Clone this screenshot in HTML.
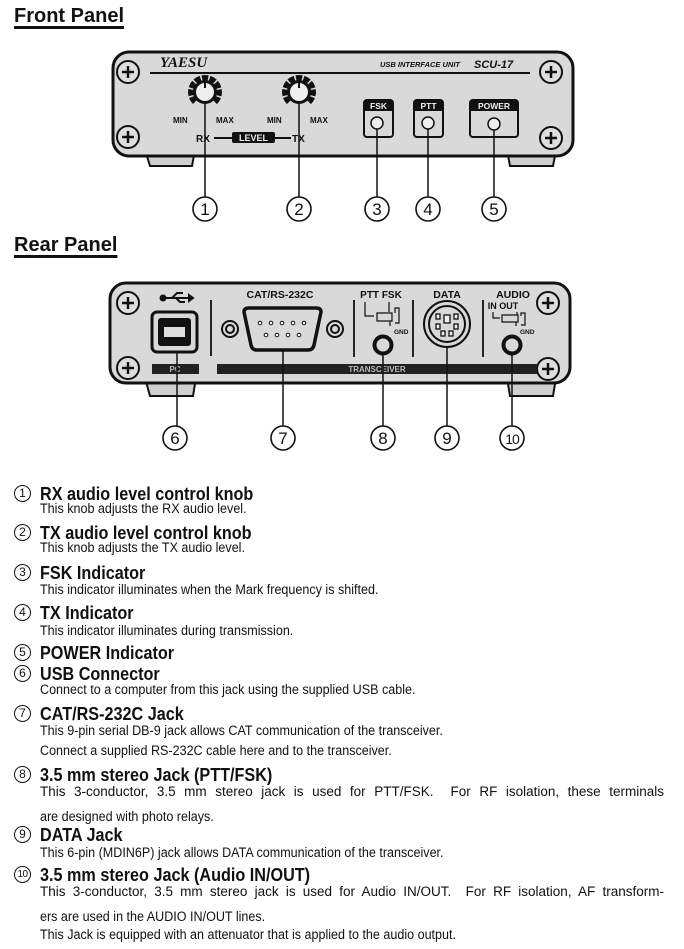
<!DOCTYPE html>
<html><head><meta charset="utf-8"><style>
body{margin:0;width:684px;height:949px;background:#fff;position:relative;overflow:hidden;font-family:"Liberation Sans",Arial,sans-serif;color:#111}
svg{position:absolute;left:0;top:0}
.h{position:absolute;left:40px;font-weight:bold;font-size:18px;line-height:20px;white-space:nowrap;transform:scaleX(0.9);transform-origin:0 0}
.n{position:absolute;left:14px;width:15px;height:15px;border:1.4px solid #111;border-radius:50%;font-size:12px;line-height:15px;text-align:center}
.s{position:absolute;left:40px;font-size:13.5px;line-height:16px;white-space:nowrap;transform:scaleX(0.93);transform-origin:0 0}
.j{position:absolute;left:40px;width:624px;font-size:13.5px;line-height:16px;text-align:justify;text-align-last:justify;white-space:nowrap}
.t{position:absolute;left:14px;font-weight:bold;font-size:20px;text-decoration:underline;text-decoration-thickness:3px;text-underline-offset:4px}
</style></head><body>
<svg width="684" height="470" viewBox="0 0 684 470" font-family="Liberation Sans, Arial, sans-serif">
<defs>
<g id="screw"><circle r="11" fill="#dedede" stroke="#111" stroke-width="2"/><path d="M-6 0H6M0 -6V6" stroke="#111" stroke-width="2.5"/></g>
<g id="knob"><circle r="14" fill="none" stroke="#111" stroke-width="6" stroke-dasharray="6 1.5 6 1.5 6 1.5 6 1.5 6 1.5 6 1.5 6 1.5 6 1.5 6 22" transform="rotate(135)"/><circle r="10.5" fill="#eee" stroke="#111" stroke-width="3"/><path d="M0 -9V-4" stroke="#111" stroke-width="2"/></g>
<g id="num"><circle r="12" fill="#fff" stroke="#111" stroke-width="1.6"/></g>
</defs>
<path d="M145 150 L150 166 L192 166 L195 150Z M507 150 L510 166 L553 166 L556 150Z" fill="#cfcfcf" stroke="#111" stroke-width="2"/>
<rect x="113" y="52" width="460" height="104" rx="16" fill="#d9d9d9" stroke="#111" stroke-width="3"/>
<path d="M150 73H530" stroke="#111" stroke-width="2"/>
<text x="160" y="67" font-family="Liberation Serif, serif" font-style="italic" font-weight="bold" font-size="15" fill="#111">YAESU</text>
<text x="380" y="67" font-size="7.5" font-weight="bold" font-style="italic" fill="#111">USB INTERFACE UNIT</text>
<text x="474" y="68" font-size="11" font-weight="bold" font-style="italic" fill="#111">SCU-17</text>
<use href="#screw" x="128" y="72"/><use href="#screw" x="128" y="137"/>
<use href="#screw" x="551" y="72"/><use href="#screw" x="551" y="138"/>
<use href="#knob" x="205" y="92"/><use href="#knob" x="299" y="92"/>
<g font-size="8" font-weight="bold" fill="#111"><text x="173" y="123">MIN</text><text x="216" y="123">MAX</text><text x="267" y="123">MIN</text><text x="310" y="123">MAX</text></g>
<text x="196" y="142" font-size="10" font-weight="bold" fill="#111">RX</text>
<text x="292" y="142" font-size="10" font-weight="bold" fill="#111">TX</text>
<path d="M214 138H233M274 138H291" stroke="#111" stroke-width="2"/>
<rect x="232" y="132" width="43" height="11" rx="2" fill="#111"/>
<text x="253.5" y="141" font-size="9" font-weight="bold" fill="#eee" text-anchor="middle">LEVEL</text>
<g stroke="#111" stroke-width="2" fill="#d9d9d9">
<rect x="364" y="100" width="29" height="37" rx="3"/><rect x="414" y="100" width="29" height="37" rx="3"/><rect x="470" y="100" width="48" height="37" rx="3"/>
</g>
<g fill="#111"><rect x="364" y="100" width="29" height="11"/><rect x="414" y="100" width="29" height="11"/><rect x="470" y="100" width="48" height="11"/></g>
<g font-size="8.5" font-weight="bold" fill="#eee" text-anchor="middle"><text x="378.5" y="109">FSK</text><text x="428.5" y="109">PTT</text><text x="494" y="109">POWER</text></g>
<g fill="#eee" stroke="#111" stroke-width="1.5"><circle cx="377" cy="123" r="6"/><circle cx="428" cy="123" r="6"/><circle cx="494" cy="124" r="6"/></g>
<g stroke="#111" stroke-width="1.5"><path d="M205 103V197M299 103V197M377 129V197M428 129V197M494 130V197"/></g>
<g font-size="17" fill="#111" text-anchor="middle">
<use href="#num" x="205" y="209"/><text x="205" y="215">1</text>
<use href="#num" x="299" y="209"/><text x="299" y="215">2</text>
<use href="#num" x="377" y="209"/><text x="377" y="215">3</text>
<use href="#num" x="428" y="209"/><text x="428" y="215">4</text>
<use href="#num" x="494" y="209"/><text x="494" y="215">5</text>
</g>
<path d="M145 378 L150 396 L193 396 L196 378Z M507 378 L510 396 L553 396 L556 378Z" fill="#cfcfcf" stroke="#111" stroke-width="2"/>
<rect x="110" y="283" width="460" height="100" rx="16" fill="#d9d9d9" stroke="#111" stroke-width="3"/>
<use href="#screw" x="128" y="303"/><use href="#screw" x="128" y="368"/>
<use href="#screw" x="548" y="303"/><use href="#screw" x="548" y="369"/>
<g stroke="#111" stroke-width="2" fill="#111"><path d="M164 298H189"/><circle cx="163" cy="298" r="2.5"/><path d="M172 298L177 293H183M176 298L180 302H185" fill="none"/><path d="M189 295L193 298L189 301Z"/></g>
<rect x="152" y="312" width="45" height="40" rx="5" fill="#d9d9d9" stroke="#111" stroke-width="3"/>
<rect x="158" y="318" width="33" height="28" rx="3" fill="#111"/>
<rect x="164" y="327" width="21" height="10" fill="#ddd"/>
<rect x="152" y="364" width="47" height="10" fill="#222"/>
<text x="175" y="372" font-size="8" font-weight="bold" fill="#bbb" text-anchor="middle">PC</text>
<rect x="217" y="364" width="320" height="10" fill="#222"/>
<text x="377" y="372" font-size="8" font-weight="bold" fill="#bbb" text-anchor="middle">TRANSCEIVER</text>
<path d="M211 300V356M354 300V357M413 300V357M483 300V357" stroke="#111" stroke-width="1.8"/>
<text x="280" y="298" font-size="10.5" font-weight="bold" fill="#111" text-anchor="middle">CAT/RS-232C</text>
<g fill="#d9d9d9" stroke="#111" stroke-width="2"><circle cx="230" cy="329" r="8"/><circle cx="230" cy="329" r="4"/><circle cx="335" cy="329" r="8"/><circle cx="335" cy="329" r="4"/></g>
<path d="M244 312 Q244 308 249 308 H316 Q321 308 321 312 L314 345 Q313 350 308 350 H257 Q252 350 251 345Z" fill="#d9d9d9" stroke="#111" stroke-width="3.5"/>
<g fill="#fff" stroke="#111" stroke-width="1"><circle cx="260" cy="323" r="1.8"/><circle cx="271" cy="323" r="1.8"/><circle cx="282" cy="323" r="1.8"/><circle cx="293" cy="323" r="1.8"/><circle cx="304" cy="323" r="1.8"/><circle cx="266" cy="335" r="1.8"/><circle cx="277" cy="335" r="1.8"/><circle cx="288" cy="335" r="1.8"/><circle cx="299" cy="335" r="1.8"/></g>
<text x="381" y="298" font-size="10" font-weight="bold" fill="#111" text-anchor="middle">PTT  FSK</text>
<g stroke="#111" stroke-width="1.2" fill="none"><path d="M365 302V316H374M389 302V312M377 313H392V321H377ZM395 313V308H399V323H395M390 321V326"/></g>
<text x="394" y="334" font-size="6.5" font-weight="bold" fill="#111">GND</text>
<circle cx="383" cy="345" r="8.5" fill="#d9d9d9" stroke="#111" stroke-width="4"/>
<text x="447" y="298" font-size="10.5" font-weight="bold" fill="#111" text-anchor="middle">DATA</text>
<circle cx="447" cy="324" r="23" fill="#d9d9d9" stroke="#111" stroke-width="2"/>
<circle cx="447" cy="324" r="18" fill="#d9d9d9" stroke="#111" stroke-width="2"/>
<g fill="#eee" stroke="#111" stroke-width="1.3"><rect x="444" y="315" width="6" height="8"/><rect x="436" y="314" width="4" height="5"/><rect x="454" y="314" width="4" height="5"/><rect x="436" y="324" width="4" height="5"/><rect x="454" y="324" width="4" height="5"/><rect x="441" y="331" width="4" height="5"/><rect x="449" y="331" width="4" height="5"/></g>
<text x="513" y="298" font-size="10.5" font-weight="bold" fill="#111" text-anchor="middle">AUDIO</text>
<text x="503" y="309" font-size="9" font-weight="bold" fill="#111" text-anchor="middle">IN OUT</text>
<g stroke="#111" stroke-width="1.2" fill="none"><path d="M493 312V318H500M517 312V315M502 315H518V322H502ZM521 316V313H525V325H521M516 322V326"/></g>
<text x="520" y="334" font-size="6.5" font-weight="bold" fill="#111">GND</text>
<circle cx="512" cy="345" r="8.5" fill="#d9d9d9" stroke="#111" stroke-width="4"/>
<g stroke="#111" stroke-width="1.5"><path d="M177 352V426M283 350V426M383 354V426M447 347V426M512 354V426"/></g>
<g font-size="17" fill="#111" text-anchor="middle">
<use href="#num" x="175" y="438"/><text x="175" y="444">6</text>
<use href="#num" x="283" y="438"/><text x="283" y="444">7</text>
<use href="#num" x="383" y="438"/><text x="383" y="444">8</text>
<use href="#num" x="447" y="438"/><text x="447" y="444">9</text>
<use href="#num" x="512" y="438"/><text x="512" y="444" font-size="14" letter-spacing="-1">10</text>
</g>
</svg>
<div class="t" style="top:5px">Front Panel</div>
<div class="t" style="top:234px">Rear Panel</div>

<div class="n" style="top:485px">1</div><div class="h" style="top:484px">RX audio level control knob</div>
<div class="s" style="top:501px">This knob adjusts the RX audio level.</div>
<div class="n" style="top:524px">2</div><div class="h" style="top:523px">TX audio level control knob</div>
<div class="s" style="top:540px">This knob adjusts the TX audio level.</div>
<div class="n" style="top:564px">3</div><div class="h" style="top:563px">FSK Indicator</div>
<div class="s" style="top:582px">This indicator illuminates when the Mark frequency is shifted.</div>
<div class="n" style="top:604px">4</div><div class="h" style="top:603px">TX Indicator</div>
<div class="s" style="top:623px">This indicator illuminates during transmission.</div>
<div class="n" style="top:644px">5</div><div class="h" style="top:643px">POWER Indicator</div>
<div class="n" style="top:665px">6</div><div class="h" style="top:664px">USB Connector</div>
<div class="s" style="top:682px">Connect to a computer from this jack using the supplied USB cable.</div>
<div class="n" style="top:705px">7</div><div class="h" style="top:704px">CAT/RS-232C Jack</div>
<div class="s" style="top:723px">This 9-pin serial DB-9 jack allows CAT communication of the transceiver.</div>
<div class="s" style="top:743px">Connect a supplied RS-232C cable here and to the transceiver.</div>
<div class="n" style="top:766px">8</div><div class="h" style="top:765px">3.5 mm stereo Jack (PTT/FSK)</div>
<div class="j" style="top:784px">This 3-conductor, 3.5 mm stereo jack is used for PTT/FSK.&nbsp; For RF isolation, these terminals</div>
<div class="s" style="top:809px">are designed with photo relays.</div>
<div class="n" style="top:826px">9</div><div class="h" style="top:825px">DATA Jack</div>
<div class="s" style="top:845px">This 6-pin (MDIN6P) jack allows DATA communication of the transceiver.</div>
<div class="n" style="top:866px;font-size:10px;letter-spacing:-0.5px">10</div><div class="h" style="top:865px">3.5 mm stereo Jack (Audio IN/OUT)</div>
<div class="j" style="top:884px">This 3-conductor, 3.5 mm stereo jack is used for Audio IN/OUT.&nbsp; For RF isolation, AF transform-</div>
<div class="s" style="top:909px">ers are used in the AUDIO IN/OUT lines.</div>
<div class="s" style="top:927px">This Jack is equipped with an attenuator that is applied to the audio output.</div>
</body></html>
